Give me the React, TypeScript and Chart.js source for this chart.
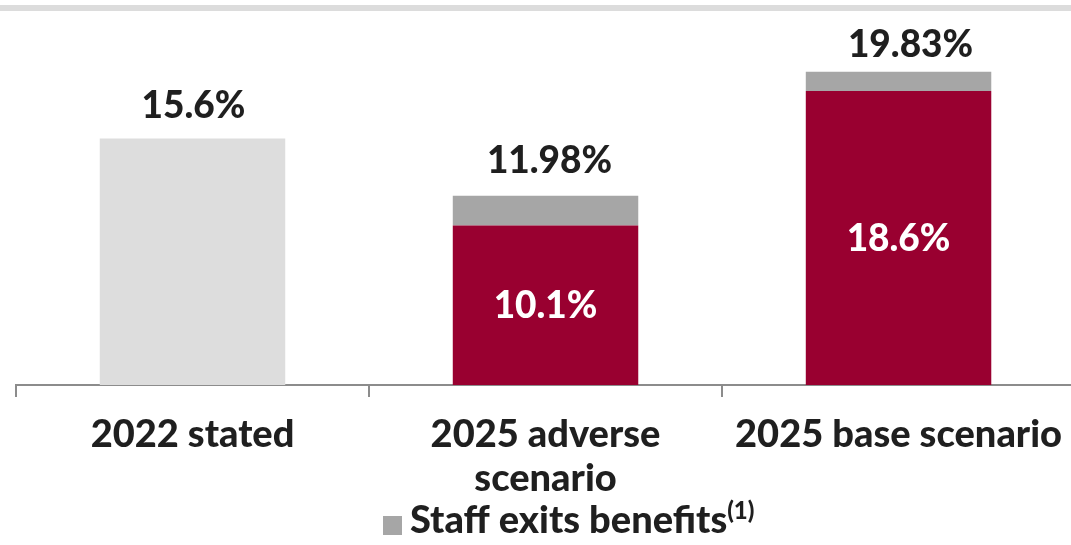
import React, { useEffect, useRef } from "react";
import { Chart, registerables } from "chart.js";

Chart.register(...registerables);

const categories: (string | string[])[] = ["2022 stated", ["2025 adverse", "scenario"], "2025 base scenario"];
const statedValues = [15.6, null, null];
const scenarioValues = [null, 10.1, 18.6];
const staffExitsValues = [null, 1.88, 1.23];
const totalValues = [15.6, 11.98, 19.83];
const legendLabel = "Staff exits benefits";
const legendSup = "(1)";

const RED = "#990030";
const GRAY = "#a6a6a6";
const LIGHT = "#dddddd";
const TEXT = "#1f1f1f";
const AXIS = "#8c8c8c";
const FONT = "Lato";
const W = "900";

const labelsPlugin = {
  id: "customLabels",
  beforeDraw(chart: any) {
    const ctx = chart.ctx;
    ctx.save();
    ctx.fillStyle = "#dcdcdc";
    ctx.fillRect(0, 5, chart.width, 6);
    ctx.restore();
  },
  afterDatasetsDraw(chart: any, _args: any, opts: any) {
    const ctx = chart.ctx;
    const y = chart.scales.y;
    const x = chart.scales.x;
    const gaps: number[] = opts.gaps || [];
    const shifts: number[] = opts.shifts || [];
    ctx.save();
    ctx.font = `${W} 37px ${FONT}`;
    ctx.textAlign = "center";
    ctx.textBaseline = "alphabetic";
    totalValues.forEach((v, i) => {
      const px = x.getPixelForValue(i) + (shifts[i] ?? 0);
      const py = y.getPixelForValue(v);
      ctx.fillStyle = TEXT;
      ctx.fillText(`${v}%`, px, py - (gaps[i] ?? 20));
    });
    const meta = chart.getDatasetMeta(1);
    scenarioValues.forEach((v, i) => {
      if (v == null) return;
      const el = meta.data[i];
      const mid = (el.y + el.base) / 2;
      ctx.fillStyle = "#ffffff";
      ctx.textBaseline = "alphabetic";
      ctx.fillText(`${v}%`, el.x, mid + 13);
    });
    // legend
    ctx.textAlign = "left";
    ctx.textBaseline = "alphabetic";
    ctx.fillStyle = GRAY;
    ctx.fillRect(383, 516, 19, 19);
    ctx.fillStyle = TEXT;
    ctx.font = `${W} 38px ${FONT}`;
    ctx.fillText(legendLabel, 410, 533);
    const w = ctx.measureText(legendLabel).width;
    ctx.font = `${W} 24px ${FONT}`;
    ctx.fillText(legendSup, 410 + w, 519);
    ctx.restore();
  },
};

export default function App() {
  const ref = useRef<HTMLCanvasElement | null>(null);
  useEffect(() => {
    let chart: Chart | null = null;
    let cancelled = false;
    const make = () => {
      if (cancelled || !ref.current) return;
      chart = new Chart(ref.current, {
        type: "bar",
        data: {
          labels: categories as any,
          datasets: [
            { label: "2022", data: statedValues as any, backgroundColor: LIGHT },
            { label: "Scenario", data: scenarioValues as any, backgroundColor: RED },
            { label: legendLabel, data: staffExitsValues as any, backgroundColor: GRAY },
          ],
        },
        options: {
          animation: false,
          responsive: false,
          layout: { padding: { top: 37.4, left: 16, right: 0, bottom: 0 } },
          plugins: {
            legend: { display: false },
            tooltip: { enabled: false },
            customLabels: { gaps: [21, 23, 15], shifts: [1, 4, 12] },
          } as any,
          datasets: { bar: { categoryPercentage: 1, barPercentage: 186 / 354 } } as any,
          scales: {
            x: {
              stacked: true,
              afterFit: (s: any) => {
                s.height = 160;
              },
              grid: {
                display: true,
                offset: true,
                drawOnChartArea: false,
                drawTicks: true,
                tickLength: 12,
                color: AXIS,
                lineWidth: 2,
              },
              border: { display: true, color: AXIS, width: 2 },
              ticks: {
                color: TEXT,
                padding: 16,
                maxRotation: 0,
                autoSkip: false,
                font: { family: FONT, size: 38, weight: W as any, lineHeight: 1.16 },
              },
            },
            y: { stacked: true, display: false, min: 0, max: 22 },
          },
        },
        plugins: [labelsPlugin],
      });
    };
    const fonts: any = (document as any).fonts;
    if (fonts && fonts.load) {
      Promise.all([fonts.load(`${W} 38px ${FONT}`), fonts.load(`${W} 24px ${FONT}`)])
        .catch(() => {})
        .then(make);
    } else make();
    return () => {
      cancelled = true;
      if (chart) chart.destroy();
    };
  }, []);
  return (
    <div style={{ position: "fixed", left: 0, top: 0, width: 1071, height: 545, overflow: "hidden", background: "#fff" }}>
      <canvas ref={ref} width={1078} height={545} style={{ width: 1078, height: 545, display: "block" }} />
    </div>
  );
}
